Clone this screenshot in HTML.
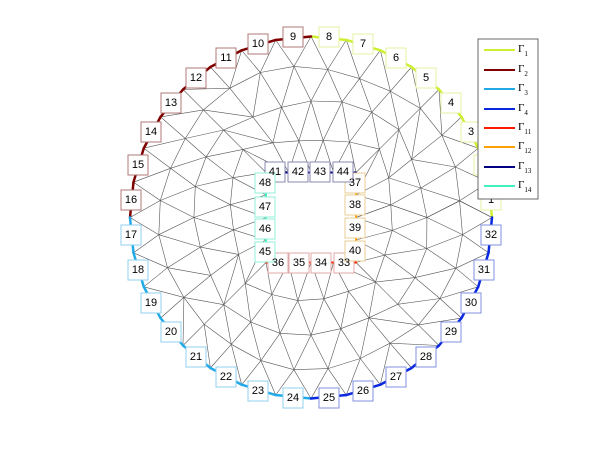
<!DOCTYPE html>
<html><head><meta charset="utf-8"><style>
html,body{margin:0;padding:0;background:#fff;}
svg{display:block;font-family:"Liberation Sans",sans-serif;}
.lb rect{fill:#fff;stroke-width:1;}
.lb text{font-size:11px;text-anchor:middle;dominant-baseline:central;fill:#000;}
</style></head><body>
<svg id="s" width="600" height="451" viewBox="0 0 600 451" xmlns="http://www.w3.org/2000/svg">
<g id="mesh" stroke="#555" stroke-width="0.6" fill="none"></g>
<g id="bnd" fill="none" stroke-linecap="round"></g>
<g class="lb">
<g stroke="#e4f0a0"><rect x="481" y="190" width="20" height="20"/><rect x="474" y="155" width="20" height="20"/><rect x="461" y="122" width="20" height="20"/><rect x="441" y="93" width="20" height="20"/><rect x="416" y="68" width="20" height="20"/><rect x="386" y="48" width="20" height="20"/><rect x="353" y="34" width="20" height="20"/><rect x="319" y="27" width="20" height="20"/></g>
<g stroke="#b07878"><rect x="283" y="27" width="20" height="20"/><rect x="248" y="34" width="20" height="20"/><rect x="216" y="48" width="20" height="20"/><rect x="186" y="68" width="20" height="20"/><rect x="161" y="93" width="20" height="20"/><rect x="141" y="122" width="20" height="20"/><rect x="128" y="155" width="20" height="20"/><rect x="121" y="190" width="20" height="20"/></g>
<g stroke="#90d0f0"><rect x="121" y="225" width="20" height="20"/><rect x="128" y="260" width="20" height="20"/><rect x="141" y="293" width="20" height="20"/><rect x="161" y="322" width="20" height="20"/><rect x="186" y="347" width="20" height="20"/><rect x="216" y="367" width="20" height="20"/><rect x="248" y="381" width="20" height="20"/><rect x="283" y="388" width="20" height="20"/></g>
<g stroke="#8090e0"><rect x="319" y="388" width="20" height="20"/><rect x="353" y="381" width="20" height="20"/><rect x="386" y="367" width="20" height="20"/><rect x="416" y="347" width="20" height="20"/><rect x="441" y="322" width="20" height="20"/><rect x="461" y="293" width="20" height="20"/><rect x="474" y="260" width="20" height="20"/><rect x="481" y="225" width="20" height="20"/></g>
<g stroke="#e0a8a8"><rect x="334" y="253" width="20" height="20"/><rect x="311" y="253" width="20" height="20"/><rect x="289" y="253" width="20" height="20"/><rect x="268" y="253" width="20" height="20"/></g>
<g stroke="#e8cc90"><rect x="345" y="173" width="20" height="20"/><rect x="345" y="195" width="20" height="20"/><rect x="345" y="218" width="20" height="20"/><rect x="345" y="241" width="20" height="20"/></g>
<g stroke="#8888b0"><rect x="265" y="162" width="20" height="20"/><rect x="288" y="162" width="20" height="20"/><rect x="310" y="162" width="20" height="20"/><rect x="333" y="162" width="20" height="20"/></g>
<g stroke="#90f0d8"><rect x="255" y="242" width="20" height="20"/><rect x="255" y="219" width="20" height="20"/><rect x="255" y="197" width="20" height="20"/><rect x="255" y="173" width="20" height="20"/></g>
<text x="491" y="200">1</text><text x="484" y="165">2</text><text x="471" y="132">3</text><text x="451" y="103">4</text><text x="426" y="78">5</text><text x="396" y="58">6</text><text x="363" y="44">7</text><text x="329" y="37">8</text>
<text x="293" y="37">9</text><text x="258" y="44">10</text><text x="226" y="58">11</text><text x="196" y="78">12</text><text x="171" y="103">13</text><text x="151" y="132">14</text><text x="138" y="165">15</text><text x="131" y="200">16</text>
<text x="131" y="235">17</text><text x="138" y="270">18</text><text x="151" y="303">19</text><text x="171" y="332">20</text><text x="196" y="357">21</text><text x="226" y="377">22</text><text x="258" y="391">23</text><text x="293" y="398">24</text>
<text x="329" y="398">25</text><text x="363" y="391">26</text><text x="396" y="377">27</text><text x="426" y="357">28</text><text x="451" y="332">29</text><text x="471" y="303">30</text><text x="484" y="270">31</text><text x="491" y="235">32</text>
<text x="344" y="263">33</text><text x="321" y="263">34</text><text x="299" y="263">35</text><text x="278" y="263">36</text>
<text x="355" y="183">37</text><text x="355" y="205">38</text><text x="355" y="228">39</text><text x="355" y="251">40</text>
<text x="275" y="172">41</text><text x="298" y="172">42</text><text x="320" y="172">43</text><text x="343" y="172">44</text>
<text x="265" y="252">45</text><text x="265" y="229">46</text><text x="265" y="207">47</text><text x="265" y="183">48</text>
</g>
<g>
<rect x="478" y="39" width="60" height="160" fill="#fff" stroke="#444" stroke-width="0.8"/>
<g stroke-width="2">
<line x1="484" y1="50" x2="515" y2="50" stroke="#ccf030"/>
<line x1="484" y1="70" x2="515" y2="70" stroke="#800000"/>
<line x1="484" y1="89" x2="515" y2="89" stroke="#22aae8"/>
<line x1="484" y1="109" x2="515" y2="109" stroke="#0a28e0"/>
<line x1="484" y1="128" x2="515" y2="128" stroke="#ff1a00"/>
<line x1="484" y1="147" x2="515" y2="147" stroke="#ffa000"/>
<line x1="484" y1="167" x2="515" y2="167" stroke="#000080"/>
<line x1="484" y1="186" x2="515" y2="186" stroke="#40f0c0"/>
</g>
<g font-size="11" fill="#000" font-family="Liberation Serif,serif">
<text x="518" y="52">Γ<tspan font-size="7" dy="4">1</tspan></text>
<text x="518" y="72">Γ<tspan font-size="7" dy="4">2</tspan></text>
<text x="518" y="91">Γ<tspan font-size="7" dy="4">3</tspan></text>
<text x="518" y="111">Γ<tspan font-size="7" dy="4">4</tspan></text>
<text x="518" y="130">Γ<tspan font-size="7" dy="4">11</tspan></text>
<text x="518" y="149">Γ<tspan font-size="7" dy="4">12</tspan></text>
<text x="518" y="169">Γ<tspan font-size="7" dy="4">13</tspan></text>
<text x="518" y="188">Γ<tspan font-size="7" dy="4">14</tspan></text>
</g>
</g>
</svg>
<script>
(function(){
var cx=311,cy=217.5,R=181,H=45,NS="http://www.w3.org/2000/svg",TAU=2*Math.PI;
function ang(p){var a=Math.atan2(cy-p[1],p[0]-cx);if(a<0)a+=TAU;return a;}
function mk(list){return list.map(function(p){return {p:p,a:ang(p)};}).sort(function(x,y){return x.a-y.a;});}
var outer=[];for(var i=0;i<32;i++){var a=i*TAU/32;outer.push([cx+R*Math.cos(a),cy-R*Math.sin(a)]);}
var L=cx-H,Rr=cx+H,T=cy-H,B=cy+H,hole=[];
for(var k=0;k<4;k++)hole.push([Rr,B-k*22.5]);
for(var k=0;k<4;k++)hole.push([Rr-k*22.5,T]);
for(var k=0;k<4;k++)hole.push([L,T+k*22.5]);
for(var k=0;k<4;k++)hole.push([L+k*22.5,B]);
function sq(phi){var c=Math.cos(phi),s=Math.sin(phi),m=Math.max(Math.abs(c),Math.abs(s));return [cx+H*c/m,cy-H*s/m];}
var ringsDef=[[0.26,20,0.5],[0.52,24,0.0],[0.77,28,0.5]];
var R_=[mk(hole)];
ringsDef.forEach(function(r,ri){var l=[];for(var j=0;j<r[1];j++){var phi=(j+r[2])*TAU/r[1];var s=sq(phi);var c=[cx+R*Math.cos(phi),cy-R*Math.sin(phi)];
var t=r[0]+Math.sin(j*7.3+ri*3.1)*0.025;l.push([s[0]+t*(c[0]-s[0]),s[1]+t*(c[1]-s[1])]);}R_.push(mk(l));});
R_.push(mk(outer));
var g=document.getElementById("mesh");
function line(a,b){var l=document.createElementNS(NS,"line");l.setAttribute("x1",a[0].toFixed(1));l.setAttribute("y1",a[1].toFixed(1));l.setAttribute("x2",b[0].toFixed(1));l.setAttribute("y2",b[1].toFixed(1));g.appendChild(l);}
for(var r=1;r<R_.length-1;r++){var A=R_[r];for(var i=0;i<A.length;i++)line(A[i].p,A[(i+1)%A.length].p);}
for(var r=0;r<R_.length-1;r++){var A=R_[r],Bq=R_[r+1],na=A.length,nb=Bq.length,i=0,j=0;
function ua(X,k){var n=X.length;return X[k%n].a+Math.floor(k/n)*TAU;}
line(A[0].p,Bq[0].p);
while(i<na||j<nb){var nA=ua(A,i+1),nB=ua(Bq,j+1);
if((j>=nb)||(i<na&&nA<nB))i++;else j++;
line(A[i%na].p,Bq[j%nb].p);}}
var bg=document.getElementById("bnd");
function bl(a,b,c,w){var l=document.createElementNS(NS,"line");l.setAttribute("x1",a[0]);l.setAttribute("y1",a[1]);l.setAttribute("x2",b[0]);l.setAttribute("y2",b[1]);l.setAttribute("stroke",c);l.setAttribute("stroke-width",w);bg.appendChild(l);}
var oc=["#ccf030","#800000","#22aae8","#0a28e0"];
for(var i=0;i<32;i++)bl(outer[i],outer[(i+1)%32],oc[Math.floor(i/8)],"2.5");
var hc=["#ffa000","#000080","#40f0c0","#ff1a00"];
for(var i=0;i<16;i++)bl(hole[i],hole[(i+1)%16],hc[Math.floor(i/4)],"2");
})();
</script>
</body></html>
